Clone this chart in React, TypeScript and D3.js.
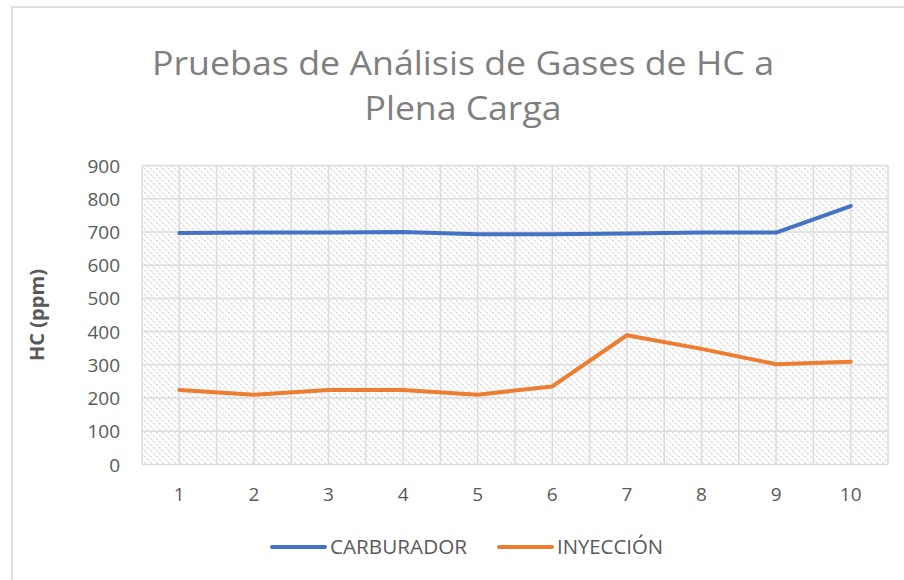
import React from "react";
import * as d3 from "d3";

const categories = ["1", "2", "3", "4", "5", "6", "7", "8", "9", "10"];
const carburador = [697, 698, 698, 700, 693, 693, 695, 698, 698, 778];
const inyeccion = [224, 210, 224, 224, 210, 235, 389, 348, 302, 309];
const yTicks = [0, 100, 200, 300, 400, 500, 600, 700, 800, 900];
const seriesNames = ["CARBURADOR", "INYECCIÓN"];
const seriesColors = ["#4472C4", "#ED7D31"];

const W = 904;
const H = 580;
const FONT = "'Open Sans', 'Liberation Sans', sans-serif";

export default function App() {
  const x0 = 142, x1 = 888, y0 = 165.5, y1 = 464.5;
  const xBand = d3.scaleBand<string>().domain(categories).range([x0, x1]).padding(0);
  const xc = (c: string) => (xBand(c) as number) + xBand.bandwidth() / 2;
  const y = d3.scaleLinear().domain([0, 900]).range([y1, y0]);
  const line = d3
    .line<number>()
    .x((_, i) => xc(categories[i]))
    .y((d) => y(d));

  const vLines: number[] = [];
  categories.forEach((c) => {
    vLines.push(xBand(c) as number);
    vLines.push(xc(c));
  });
  vLines.push(x1);

  const series = [carburador, inyeccion];
  const legendLen = [137, 106];

  return (
    <svg width={W} height={H} style={{ position: "absolute", left: 0, top: 0 }}>
      <defs>
        <pattern id="hatch" width="6" height="6" patternUnits="userSpaceOnUse">
          <rect x="0" y="0" width="1.5" height="1.5" fill="#d6d6d6" />
          <rect x="1.5" y="1.5" width="1.5" height="1.5" fill="#ececec" />
          <rect x="3" y="3" width="1.5" height="1.5" fill="#d6d6d6" />
          <rect x="4.5" y="4.5" width="1.5" height="1.5" fill="#ececec" />
        </pattern>
      </defs>
      <rect x={0} y={0} width={W} height={H} fill="#fff" />
      <rect x={12} y={7} width={W} height={H} fill="#fff" stroke="#d9d9d9" strokeWidth={1.5} />

      <text x={463} y={75} textAnchor="middle" fontFamily={FONT} fontSize={32} fill="#7f7f7f" textLength={622} lengthAdjust="spacingAndGlyphs">
        Pruebas de Análisis de Gases de HC a
      </text>
      <text x={463} y={120} textAnchor="middle" fontFamily={FONT} fontSize={32} fill="#7f7f7f" textLength={197} lengthAdjust="spacingAndGlyphs">
        Plena Carga
      </text>

      <rect x={x0} y={y0} width={x1 - x0} height={y1 - y0} fill="url(#hatch)" />
      {yTicks.map((t) => (
        <line key={"h" + t} x1={x0} x2={x1} y1={y(t)} y2={y(t)} stroke="#dcdcdc" strokeWidth={1.5} />
      ))}
      {vLines.map((v, i) => (
        <line key={"v" + i} x1={v} x2={v} y1={y0} y2={y1} stroke="#dcdcdc" strokeWidth={1.5} />
      ))}

      {yTicks.map((t) => (
        <text key={"yt" + t} x={120} y={y(t) + 7} textAnchor="end" fontFamily={FONT} fontSize={19} fill="#595959">
          {t}
        </text>
      ))}
      {categories.map((c) => (
        <text key={"xt" + c} x={xc(c)} y={501} textAnchor="middle" fontFamily={FONT} fontSize={19} fill="#595959">
          {c}
        </text>
      ))}

      <text transform={`translate(44,${(y0 + y1) / 2}) rotate(-90)`} textAnchor="middle" fontFamily={FONT} fontSize={19} fontWeight="bold" fill="#595959" textLength={92} lengthAdjust="spacingAndGlyphs">
        HC (ppm)
      </text>

      {series.map((s, i) => (
        <path key={"s" + i} d={line(s) || ""} fill="none" stroke={seriesColors[i]} strokeWidth={4} strokeLinejoin="round" strokeLinecap="round" />
      ))}

      {seriesNames.map((n, i) => {
        const lx = i === 0 ? 272 : 499;
        return (
          <g key={"lg" + i}>
            <line x1={lx} x2={lx + 53} y1={547} y2={547} stroke={seriesColors[i]} strokeWidth={4} strokeLinecap="round" />
            <text x={lx + 58} y={554} fontFamily={FONT} fontSize={19.5} fill="#595959" textLength={legendLen[i]} lengthAdjust="spacingAndGlyphs">
              {n}
            </text>
          </g>
        );
      })}
    </svg>
  );
}
